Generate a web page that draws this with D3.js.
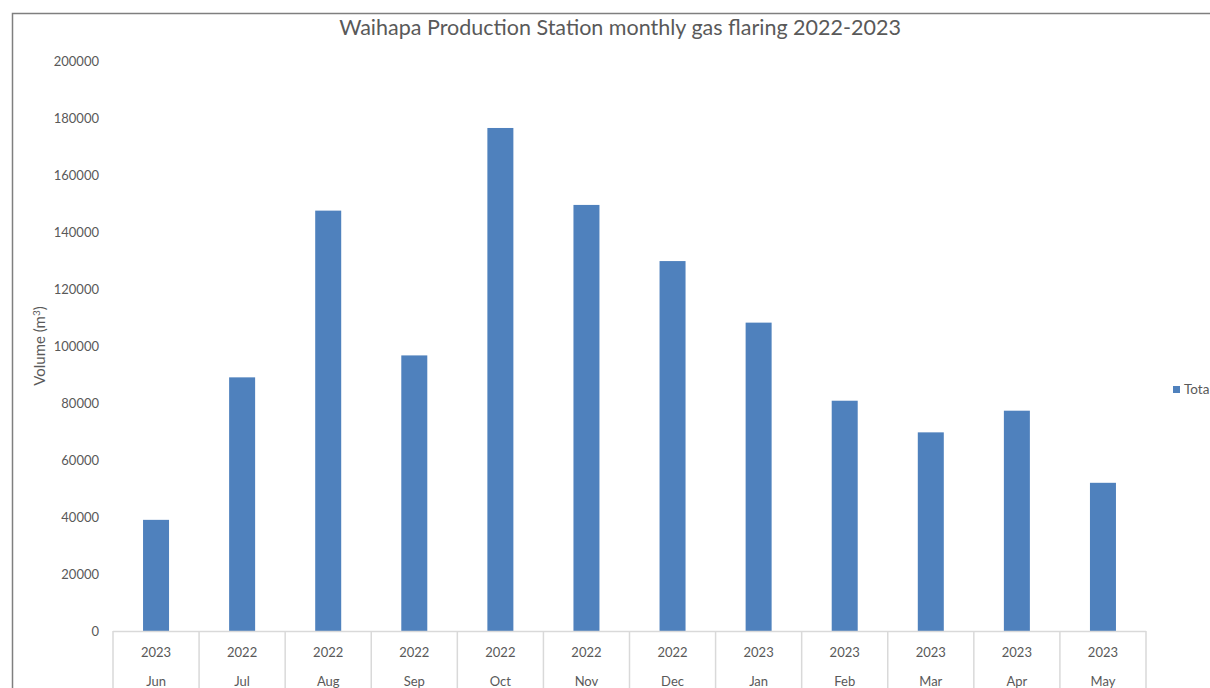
<!DOCTYPE html>
<html><head><meta charset="utf-8">
<script src="https://cdn.jsdelivr.net/npm/d3@7"></script>
<style>body{margin:0;background:#fff;overflow:hidden}svg{display:block;font-family:Lato,"Open Sans",sans-serif}</style>
</head><body>
<svg id="c" width="1210" height="688"></svg>
<script>
const months = ["Jun","Jul","Aug","Sep","Oct","Nov","Dec","Jan","Feb","Mar","Apr","May"];
const years = ["2023","2022","2022","2022","2022","2022","2022","2023","2023","2023","2023","2023"];
const totals = [39000, 89000, 147500, 96700, 176500, 149500, 129800, 108200, 80800, 69700, 77300, 52000];
const yTicks = [0,20000,40000,60000,80000,100000,120000,140000,160000,180000,200000];
const title = "Waihapa Production Station monthly gas flaring 2022-2023";
const seriesName = "Total";

(function(){
const svg = d3.select("#c");
const pL = 113, pR = 1146, pT = 61, pB = 631;
const x = d3.scaleBand().domain(d3.range(months.length)).range([pL, pR]).paddingInner(0).paddingOuter(0);
const y = d3.scaleLinear().domain([0, 200000]).range([pB, pT]);
const txt = "#595959";

// outer border
svg.append("path").attr("d","M12.5,688 V13.5 H1210").attr("fill","none").attr("stroke","#7f7f7f").attr("stroke-width",1.5);

// title
svg.append("text").attr("x",620).attr("y",35).attr("text-anchor","middle").attr("fill",txt)
  .style("font-size","21.5px").text(title);

// y axis ticks (labels only)
const ya = d3.axisLeft(y).tickValues(yTicks).tickSize(0).tickPadding(0).tickFormat(d3.format("d"));
const yg = svg.append("g").attr("transform",`translate(99,0)`).call(ya);
yg.select(".domain").remove();
yg.selectAll("text").attr("fill",txt).style("font-size","13px").style("font-family","Lato,sans-serif");

// y label
svg.append("text").attr("transform","translate(45,346) rotate(-90)").attr("text-anchor","middle")
  .attr("fill",txt).style("font-size","15px")
  .html('Volume (m<tspan dy="-5" style="font-size:10px">3</tspan><tspan dy="5">)</tspan>');

// bars
const bw = 26;
svg.append("g").selectAll("rect").data(totals).join("rect")
  .attr("x",(d,i)=>x(i)+x.bandwidth()/2-bw/2).attr("width",bw)
  .attr("y",d=>y(d)).attr("height",d=>y(0)-y(d)).attr("fill","#4f81bd");

// x axis line and category separators
svg.append("line").attr("x1",pL).attr("x2",pR).attr("y1",pB+0.5).attr("y2",pB+0.5).attr("stroke","#d9d9d9").attr("stroke-width",1.5);
const seps = d3.range(months.length+1).map(i=> i<months.length ? x(i) : pR);
svg.append("g").selectAll("line").data(seps).join("line")
  .attr("x1",d=>d).attr("x2",d=>d).attr("y1",pB).attr("y2",688)
  .attr("stroke","#d9d9d9").attr("stroke-width",1.5);

// x labels
const xl = svg.append("g");
xl.selectAll("text.yr").data(years).join("text").attr("class","yr")
  .attr("x",(d,i)=>x(i)+x.bandwidth()/2).attr("y",657).attr("text-anchor","middle")
  .attr("fill",txt).style("font-size","13px").text(d=>d);
xl.selectAll("text.mo").data(months).join("text").attr("class","mo")
  .attr("x",(d,i)=>x(i)+x.bandwidth()/2).attr("y",686).attr("text-anchor","middle")
  .attr("fill",txt).style("font-size","13px").text(d=>d);

// legend (cut by the right edge, as in the reference)
svg.append("rect").attr("x",1173).attr("y",386).attr("width",7).attr("height",7).attr("fill","#4f81bd");
svg.append("text").attr("x",1184).attr("y",394).attr("fill",txt).style("font-size","13.5px").text(seriesName);
})();
</script>
</body></html>
